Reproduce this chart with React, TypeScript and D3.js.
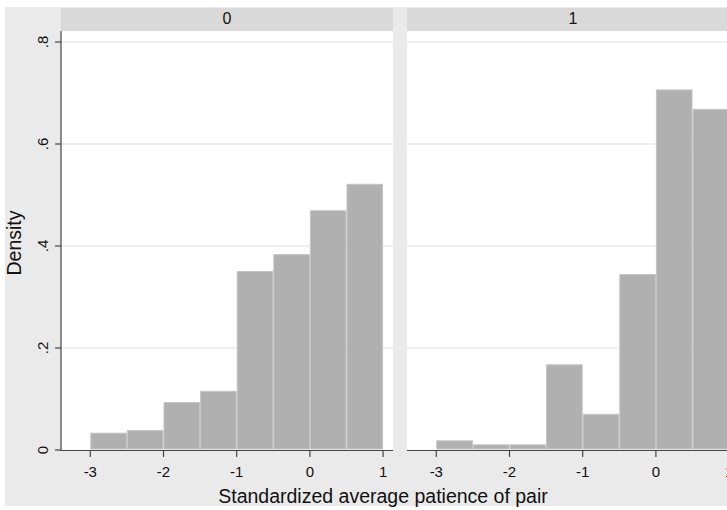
import React from "react";
import * as d3 from "d3";

const panels = ["0", "1"];
const binStarts = [-3, -2.5, -2, -1.5, -1, -0.5, 0, 0.5];
const binWidth = 0.5;
const density0 = [0.034, 0.039, 0.094, 0.116, 0.351, 0.384, 0.47, 0.522];
const density1 = [0.019, 0.011, 0.011, 0.168, 0.071, 0.345, 0.707, 0.669];
const yTicks = [0, 0.2, 0.4, 0.6, 0.8];
const yTickLabels = ["0", ".2", ".4", ".6", ".8"];
const xTicks = [-3, -2, -1, 0, 1];
const xTickLabels = ["-3", "-2", "-1", "0", "1"];
const xTitle = "Standardized average patience of pair";
const yTitle = "Density";

const W = 727;
const H = 510;
const FONT = "'Liberation Sans', Arial, sans-serif";

export default function App() {
  const panelLefts = [61, 407];
  const panelW = 332;
  const plotTop = 31;
  const headerTop = 8;
  const y = d3.scaleLinear().domain([0, 0.8]).range([450, 42]);
  const series = [density0, density1];

  return (
    <svg
      width={W}
      height={H}
      style={{ position: "absolute", left: 0, top: 0, display: "block" }}
      fontFamily={FONT}
    >
      <rect x={0} y={0} width={W} height={H} fill="#ffffff" />
      <rect x={5} y={7} width={W - 5} height={499} fill="#eaeaea" />
      {panels.map((p, pi) => {
        const left = panelLefts[pi];
        const x = d3
          .scaleLinear()
          .domain([-3, 1])
          .range([left + 29.3, left + 29.3 + 4 * 73.2]);
        const data = series[pi];
        return (
          <g key={p}>
            <rect x={left} y={headerTop} width={panelW} height={plotTop - headerTop} fill="#d9d9d9" />
            <text
              x={left + panelW / 2}
              y={24}
              textAnchor="middle"
              fontSize={16}
              fill="#111"
            >
              {p}
            </text>
            <rect x={left} y={plotTop} width={panelW} height={y(0) - plotTop} fill="#ffffff" />
            {yTicks.slice(1).map((t) => (
              <line
                key={t}
                x1={left}
                x2={left + panelW}
                y1={y(t)}
                y2={y(t)}
                stroke="#eaeaea"
                strokeWidth={1.5}
              />
            ))}
            {data.map((v, i) => (
              <rect
                key={i}
                x={x(binStarts[i]) + 0.5}
                y={y(v) + 0.5}
                width={x(binStarts[i] + binWidth) - x(binStarts[i]) - 1}
                height={y(0) - y(v) - 1.5}
                fill="#b0b0b0"
                stroke="#c4c4c4"
                strokeWidth={1}
              />
            ))}
            <line x1={left} x2={left + panelW} y1={y(0) + 0.5} y2={y(0) + 0.5} stroke="#444" strokeWidth={1.2} />
            {xTicks.map((t, i) => (
              <g key={t}>
                <line x1={x(t)} x2={x(t)} y1={y(0)} y2={y(0) + 7} stroke="#444" strokeWidth={1.2} />
                <text x={x(t)} y={477} textAnchor="middle" fontSize={15} fill="#111">
                  {xTickLabels[i]}
                </text>
              </g>
            ))}
            {pi === 0 && (
              <g>
                <line x1={left} x2={left} y1={plotTop} y2={y(0) + 1} stroke="#444" strokeWidth={1.2} />
                {yTicks.map((t, i) => (
                  <g key={t}>
                    <line x1={left - 6} x2={left} y1={y(t)} y2={y(t)} stroke="#444" strokeWidth={1.2} />
                    <text
                      transform={`translate(48,${y(t)}) rotate(-90)`}
                      textAnchor="middle"
                      fontSize={15}
                      fill="#111"
                    >
                      {yTickLabels[i]}
                    </text>
                  </g>
                ))}
              </g>
            )}
          </g>
        );
      })}
      <text
        transform={`translate(21,243) rotate(-90)`}
        textAnchor="middle"
        fontSize={19.5}
        fill="#111"
      >
        {yTitle}
      </text>
      <text x={383} y={503} textAnchor="middle" fontSize={19.5} fill="#111">
        {xTitle}
      </text>
    </svg>
  );
}
